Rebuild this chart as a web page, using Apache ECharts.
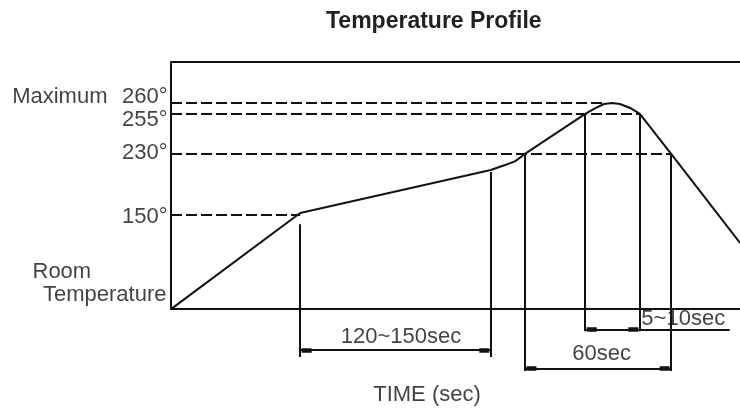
<!DOCTYPE html>
<html>
<head>
<meta charset="utf-8">
<script src="https://cdn.jsdelivr.net/npm/echarts@6/dist/echarts.min.js"></script>
<style>
  html, body { margin: 0; padding: 0; background: #ffffff; }
  #chart { width: 740px; height: 408px; }
</style>
</head>
<body>
<div id="chart"></div>
<script>
// ---- Data (schematic units: time 0-100 across the frame, level 0 = room temperature, 100 = top of frame)
const profileTime  = [0, 22.7, 56.2, 58.7, 60.5, 62.2, 72.8, 74.5, 76.1, 77.5, 78.9, 80.7, 82.4, 87.9, 100];
const profileLevel = [0, 38.9, 56.3, 58.3, 59.9, 62.8, 79.0, 81.2, 83.0, 83.4, 83.0, 81.4, 79.0, 62.8, 26.8];

const tempLabels = ['150°', '230°', '255°', '260°'];
const tempLevels = [38.1, 62.8, 79.0, 83.4];
const guideEnds  = [22.7, 87.9, 82.4, 75.9];   // time where each dashed guide meets the curve

const markTimes = [22.7, 56.2, 62.2, 72.8, 82.4, 87.9];  // vertical extension lines
const markTops  = [34.4, 55.5, 62.8, 79.0, 79.0, 62.8];

const spanLabels = ['120~150sec', '60sec', '5~10sec'];
const spanFrom   = [22.7, 62.2, 72.8];
const spanTo     = [56.2, 87.9, 82.4];

const maxLabel  = 'Maximum';
const roomLabel = ['Room', 'Temperature'];
const titleText = 'Temperature Profile';
const xName     = 'TIME (sec)';

// ---- Layout / style (not data)
const INK = '#111111';
const TXT = '#111111';
const FONT = "'Liberation Sans', Arial, sans-serif";
const FS = 22;
const spanRowY  = [-16.5, -24.0, -8.3];        // level of each dimension line (below the axis)
const extBottom = [-19.4, -19.4, -25.0, -8.9, -8.9, -25.0];
const PXX = 569 / 100;                          // px per time unit
const arrowGap = 1.5 / PXX, arrowLen = 10 / PXX;
const leaderEnd = 98.2;                         // underline under "5~10sec"

const guideData = tempLevels.map((lv, i) => ({ coords: [[0, lv], [guideEnds[i], lv]] }));
const extData = markTimes.map((t, i) => ({ coords: [[t, markTops[i]], [t, extBottom[i]]] }));
const dimData = spanFrom.map((f, i) => ({ coords: [[f, spanRowY[i]], [i === 2 ? leaderEnd : spanTo[i], spanRowY[i]]] }));
const arrowData = [];
spanFrom.forEach((f, i) => {
  const y = spanRowY[i], t = spanTo[i];
  arrowData.push({ coords: [[f + arrowGap, y], [f + arrowGap + arrowLen, y]] });
  arrowData.push({ coords: [[t - arrowGap - arrowLen, y], [t - arrowGap, y]] });
});
const frameData = [{ coords: [[0, 0], [0, 100]] }];

const tickDy = [2, 0, 7, -5.5];
const labelItems = [];
tempLabels.forEach((t, i) => labelItems.push({
  name: t, value: [0, tempLevels[i]], label: { align: 'right', offset: [-3, tickDy[i]] }
}));
labelItems.push({ name: maxLabel, value: [0, tempLevels[3]], label: { align: 'right', offset: [-63, -5.5] } });
labelItems.push({ name: roomLabel[0], value: [0, 0], label: { align: 'left', offset: [-138, -36.5] } });
labelItems.push({ name: roomLabel[1], value: [0, 0], label: { align: 'right', offset: [-4, -13.5] } });
labelItems.push({ name: spanLabels[0], value: [(spanFrom[0] + spanTo[0]) / 2, spanRowY[0]], label: { align: 'center', offset: [6, -12.2] } });
labelItems.push({ name: spanLabels[1], value: [(spanFrom[1] + spanTo[1]) / 2, spanRowY[1]], label: { align: 'center', offset: [4, -14] } });
labelItems.push({ name: spanLabels[2], value: [spanTo[2], spanRowY[2]], label: { align: 'left', offset: [2, -10.6] } });
labelItems.push({ name: xName, value: [50, 0], label: { align: 'center', offset: [-28, 86] } });

const chart = echarts.init(document.getElementById('chart'), null, { renderer: 'canvas' });
const hiddenAxis = {
  axisTick: { show: false }, axisLabel: { show: false }, splitLine: { show: false }
};
chart.setOption({
  animation: false,
  backgroundColor: '#ffffff',
  title: {
    text: titleText, left: 321, top: 5,
    textStyle: { fontFamily: FONT, fontWeight: 'bold', fontSize: 23, color: '#231f20' }
  },
  grid: { left: 171, right: 0, top: 62, bottom: 0, containLabel: false, outerBoundsMode: 'none' },
  xAxis: [
    Object.assign({
      type: 'value', min: 0, max: 100, position: 'bottom',
      axisLine: { show: true, onZero: true, lineStyle: { color: INK, width: 2 } }
    }, hiddenAxis),
    Object.assign({
      type: 'value', min: 0, max: 100, position: 'top',
      axisLine: { show: true, onZero: false, lineStyle: { color: INK, width: 2 } }
    }, hiddenAxis)
  ],
  yAxis: Object.assign({
    type: 'value', min: -40, max: 100,
    axisLine: { show: false }
  }, hiddenAxis),
  series: [
    { type: 'lines', coordinateSystem: 'cartesian2d', silent: true, z: 2,
      lineStyle: { color: INK, width: 2, type: 'solid', opacity: 1 }, data: frameData },
    { type: 'lines', coordinateSystem: 'cartesian2d', silent: true, z: 2,
      lineStyle: { color: INK, width: 2, type: [11, 4], opacity: 1 }, data: guideData },
    { type: 'lines', coordinateSystem: 'cartesian2d', silent: true, z: 3,
      lineStyle: { color: INK, width: 2, type: 'solid', opacity: 1 }, data: extData },
    { type: 'lines', coordinateSystem: 'cartesian2d', silent: true, z: 3,
      lineStyle: { color: INK, width: 2, type: 'solid', opacity: 1 }, data: dimData },
    { type: 'lines', coordinateSystem: 'cartesian2d', silent: true, z: 4,
      lineStyle: { color: INK, width: 4.5, type: 'solid', opacity: 1 }, data: arrowData },
    { type: 'line', name: 'profile', silent: true, z: 5,
      symbol: 'none', showSymbol: false,
      lineStyle: { color: INK, width: 2 },
      data: profileTime.map((t, i) => [t, profileLevel[i]]) },
    { type: 'scatter', silent: true, z: 6, symbolSize: 1,
      itemStyle: { color: 'rgba(0,0,0,0)' },
      label: {
        show: true, position: [0, 0], verticalAlign: 'middle',
        fontFamily: FONT, fontSize: FS, color: TXT,
        formatter: p => p.name
      },
      data: labelItems }
  ]
});
</script>
</body>
</html>
